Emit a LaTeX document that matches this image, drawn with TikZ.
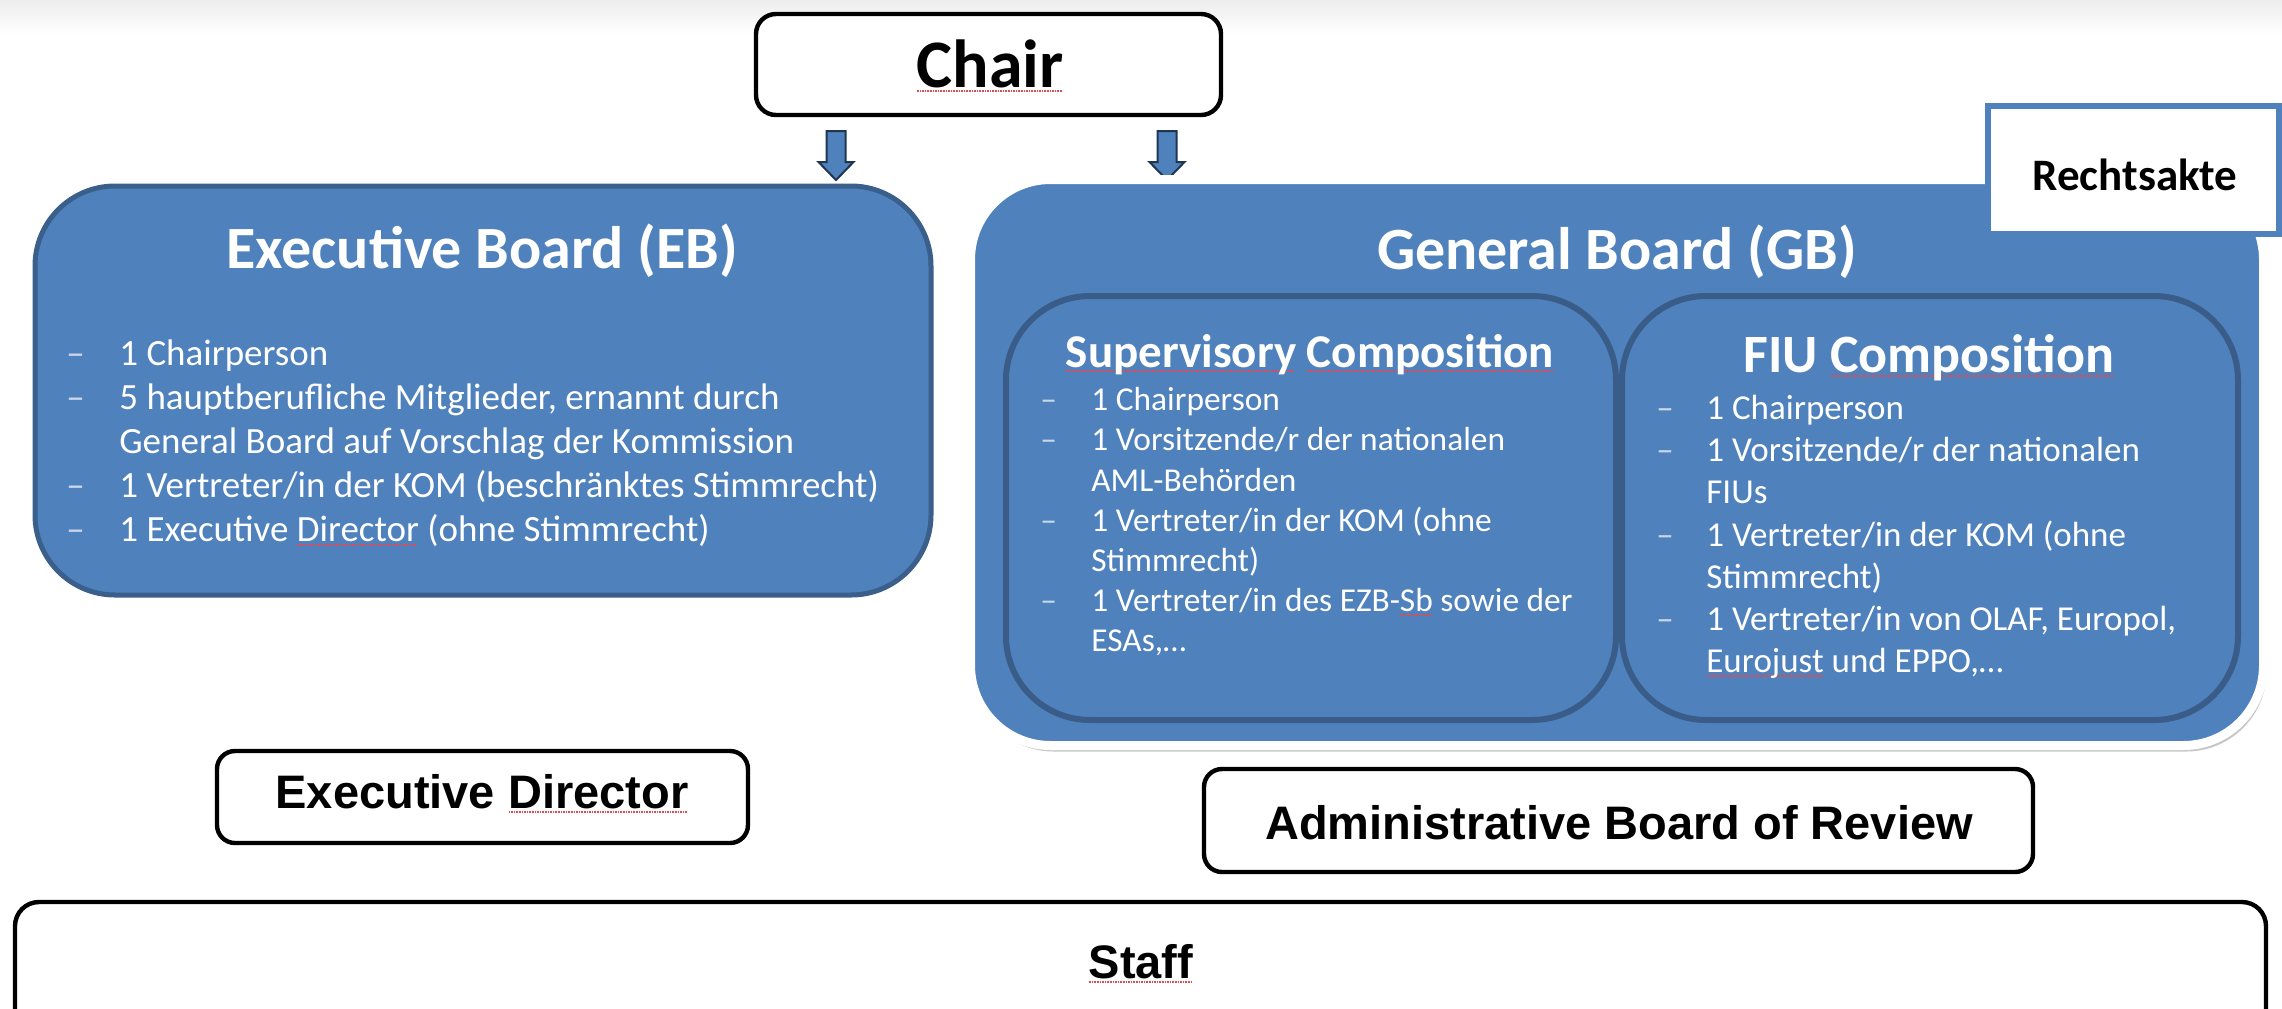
\documentclass[tikz,border=0pt]{standalone}
\usepackage{fontspec}
\setmainfont{Carlito}
\newfontfamily\labelfont{Liberation Sans}
\usetikzlibrary{shadows}

\definecolor{boardblue}{HTML}{4F81BD}
\definecolor{boardedge}{HTML}{3A5F8B}
\definecolor{compedge}{HTML}{395C88}
\definecolor{arrowedge}{HTML}{1F3550}
\definecolor{squig}{HTML}{E04A55}
\definecolor{dashcol}{HTML}{C9D7EA}

% red dotted underline as left by a spell checker
\newsavebox\spkbox
\newcommand\spk[1]{\leavevmode\sbox\spkbox{#1}%
  \rlap{\raisebox{-2.4pt}{\color{squig}\hbox to \wd\spkbox{\leaders\hbox to 1.3pt{\hss\rule{0.8pt}{0.7pt}\hss}\hfill}}}%
  \usebox\spkbox}

\tikzset{
  whitebox/.style={draw=black, line width=2.2pt, fill=white, rounded corners=9pt, inner sep=0pt},
  boardbox/.style={draw=boardedge, line width=2.5pt, fill=boardblue, inner sep=0pt},
  compbox/.style={draw=compedge, line width=3pt, fill=boardblue, rounded corners=42pt, inner sep=0pt},
  blocklabel/.style={anchor=base, inner sep=0pt, font=\labelfont\bfseries\fontsize{23.5}{28}\selectfont},
  boardtitle/.style={anchor=base, inner sep=0pt, text=white, font=\bfseries\fontsize{30}{35}\selectfont},
  dashmark/.style={anchor=base west, inner sep=0pt, text=dashcol},
  item/.style={anchor=base west, inner sep=0pt, text=white},
  blockarrow/.style={fill=boardblue, draw=arrowedge, line width=1pt, line join=miter},
}

\begin{document}
\begin{tikzpicture}[x=0.5pt, y=-0.5pt]
\useasboundingbox (0,0) rectangle (2282,1008);
\fill[white] (0,0) rectangle (2282,1008);
\shade[top color=black!7, bottom color=white] (0,0) rectangle (2282,34);

% ---- Chair ----
\node[whitebox, rounded corners=10pt, minimum width=232.5pt, minimum height=50.5pt] (chair) at (988.5,64.5) {};
\node[anchor=base, inner sep=0pt, font=\bfseries\fontsize{34}{40}\selectfont] (chairlbl) at (990,87) {\spk{Chair}};

% ---- block arrows below the chair ----
\draw[blockarrow] (826.5,131) -- (845.5,131) -- (845.5,162) -- (853.5,162) -- (836,180) -- (818.5,162) -- (826.5,162) -- cycle;
\draw[blockarrow] (1157.5,131) -- (1176.5,131) -- (1176.5,162) -- (1184.5,162) -- (1167,180) -- (1149.5,162) -- (1157.5,162) -- cycle;

% ---- Executive Board ----
\node[boardbox, rounded corners=40pt, minimum width=448pt, minimum height=204.5pt] (eb) at (483,390.5) {};
\node[boardtitle] (ebtitle) at (482,268) {Executive Board (EB)};
\begin{scope}[font=\fontsize{18.5}{22}\selectfont]
  \node[dashmark] (ebd1) at (66,365) {–};
  \node[item] (ebt1) at (119,365) {1 Chairperson};
  \node[dashmark] (ebd2) at (66,409) {–};
  \node[item] (ebt2) at (119,409) {5 hauptberufliche Mitglieder, ernannt durch};
  \node[item] (ebt3) at (119,453) {General Board auf Vorschlag der Kommission};
  \node[dashmark] (ebd4) at (66,497) {–};
  \node[item] (ebt4) at (119,497) {1 Vertreter/in der KOM (beschränktes Stimmrecht)};
  \node[dashmark] (ebd5) at (66,541) {–};
  \node[item] (ebt5) at (119,541) {1 Executive \spk{Director} (ohne Stimmrecht)};
\end{scope}

% ---- General Board ----
\node[draw=black!14, line width=1pt, rounded corners=42pt, inner sep=0pt,
      minimum width=649pt, minimum height=285.5pt] (gbrim) at (1617,462.5) {};
\node[fill=boardblue, draw=white, line width=4.5pt, rounded corners=40pt,
      minimum width=646.5pt, minimum height=283pt, inner sep=0pt,
      drop shadow={shadow xshift=1.5pt, shadow yshift=-3pt, opacity=0.22, fill=black}] (gb) at (1617,462.5) {};
\node[boardtitle] (gbtitle) at (1617,269) {General Board (GB)};

% supervisory composition
\node[compbox, minimum width=305pt, minimum height=212pt] (sup) at (1311,508) {};
\node[anchor=base, inner sep=0pt, text=white, font=\bfseries\fontsize{23.5}{28}\selectfont] (suptitle) at (1310,367) {\spk{Supervisory} \spk{Composition}};
\begin{scope}[font=\fontsize{16.7}{20}\selectfont]
  \node[dashmark] (supd1) at (1040,410) {–};
  \node[item] (supt1) at (1091,410) {1 Chairperson};
  \node[dashmark] (supd2) at (1040,450) {–};
  \node[item] (supt2) at (1091,450) {1 Vorsitzende/r der nationalen};
  \node[item] (supt3) at (1091,491) {AML-Behörden};
  \node[dashmark] (supd4) at (1040,531) {–};
  \node[item] (supt4) at (1091,531) {1 Vertreter/in der KOM (ohne};
  \node[item] (supt5) at (1091,571) {Stimmrecht)};
  \node[dashmark] (supd6) at (1040,611) {–};
  \node[item] (supt6) at (1091,611) {1 Vertreter/in des EZB-\spk{Sb} sowie der};
  \node[item] (supt7) at (1091,651) {ESAs,…};
\end{scope}

% FIU composition
\node[compbox, minimum width=308pt, minimum height=212pt] (fiu) at (1930,508) {};
\node[anchor=base, inner sep=0pt, text=white, font=\bfseries\fontsize{27}{32}\selectfont] (fiutitle) at (1929,372) {FIU \spk{Composition}};
\begin{scope}[font=\fontsize{17.5}{21}\selectfont]
  \node[dashmark] (fiud1) at (1656,419) {–};
  \node[item] (fiut1) at (1706,419) {1 Chairperson};
  \node[dashmark] (fiud2) at (1656,461) {–};
  \node[item] (fiut2) at (1706,461) {1 Vorsitzende/r der nationalen};
  \node[item] (fiut3) at (1706,503) {FIUs};
  \node[dashmark] (fiud4) at (1656,546) {–};
  \node[item] (fiut4) at (1706,546) {1 Vertreter/in der KOM (ohne};
  \node[item] (fiut5) at (1706,588) {Stimmrecht)};
  \node[dashmark] (fiud6) at (1656,630) {–};
  \node[item] (fiut6) at (1706,630) {1 Vertreter/in von OLAF, Europol,};
  \node[item] (fiut7) at (1706,672) {\spk{Eurojust} und EPPO,…};
\end{scope}

% ---- Rechtsakte tab ----
\node[draw=boardblue, line width=3pt, fill=white, inner sep=0pt,
      minimum width=145.5pt, minimum height=64pt] (recht) at (2133.5,170) {};
\node[anchor=base, inner sep=0pt, font=\bfseries\fontsize{22.5}{27}\selectfont] (rechtlbl) at (2135,190) {Rechtsakte};

% ---- lower boxes ----
\node[whitebox, minimum width=265.5pt, minimum height=46pt] (ed) at (482.5,797) {};
\node[blocklabel] (edlbl) at (482,808) {Executive \spk{Director}};

\node[whitebox, minimum width=414.5pt, minimum height=51.5pt] (abr) at (1618.5,820.5) {};
\node[blocklabel] (abrlbl) at (1619,839) {Administrative Board of Review};

\node[whitebox, rounded corners=12pt, minimum width=1125.5pt, minimum height=69pt] (staff) at (1140.5,971) {};
\node[blocklabel] (stafflbl) at (1141,978) {\spk{Staff}};
\end{tikzpicture}
\end{document}
